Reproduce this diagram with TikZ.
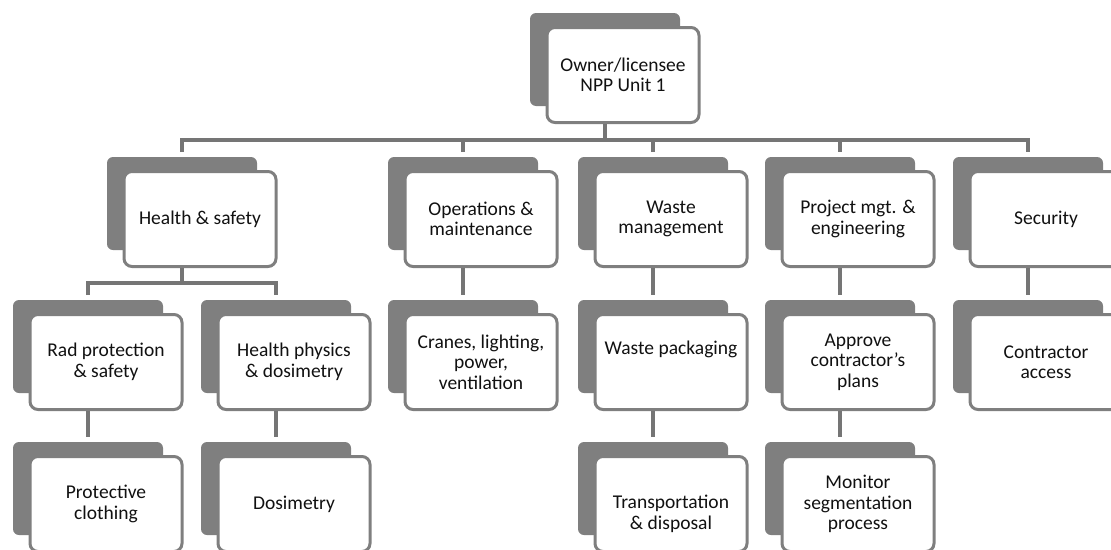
\documentclass[tikz,border=0pt]{standalone}
\usepackage{fontspec}
\setmainfont{Carlito}
\definecolor{boxgray}{HTML}{7F7F7F}
\definecolor{linegray}{HTML}{757575}
\definecolor{inktext}{HTML}{111111}
\tikzset{
  shadowbox/.style={rectangle, rounded corners=6pt, fill=boxgray,
    minimum width=150pt, minimum height=93pt, inner sep=0pt, outer sep=0pt},
  unitbox/.style={rectangle, rounded corners=8pt, draw=boxgray, line width=3pt,
    fill=white, minimum width=152pt, minimum height=95pt, inner sep=0pt},
  unittext/.style={align=center, text=inktext,
    font=\fontsize{19.5}{20.5}\selectfont, inner sep=0pt},
  conn/.style={draw=linegray, line width=3.5pt},
}
% #1 text shift, #2 name, #3 centre x of the back plate, #4 top of the back plate, #5 text
\newcommand\orgbox[5][0pt]{%
  \node[shadowbox] (#2-s) at (#3,#4+46.5) {};
  \node[unitbox] (#2) at (#3+18,#4+62) {};
  \node[unittext,yshift=#1] (#2-t) at (#2.center) {#5};
}
\begin{document}
\begin{tikzpicture}[x=1pt,y=-1pt]
\useasboundingbox (0,0) rectangle (1111,549);
\clip (0,0) rectangle (1111,549);

% top level
\orgbox{own}{605}{13}{Owner/licensee\\NPP Unit 1}
% departments
\orgbox{hs}{182}{157}{Health \& safety}
\orgbox{om}{463}{157}{Operations \&\\maintenance}
\orgbox{wm}{653}{157}{Waste\\management}
\orgbox{pm}{840}{157}{Project mgt. \&\\engineering}
\orgbox{sec}{1028}{157}{Security}
% second level
\orgbox{rp}{88}{300}{Rad protection\\\& safety}
\orgbox{hp}{276}{300}{Health physics\\\& dosimetry}
\orgbox{cr}{463}{300}{Cranes, lighting,\\power,\\ventilation}
\orgbox[13pt]{wpk}{653}{300}{Waste packaging}
\orgbox{acp}{840}{300}{Approve\\contractor’s\\plans}
\orgbox{ca}{1028}{300}{Contractor\\access}
% third level
\orgbox{pc}{88}{442}{Protective\\clothing}
\orgbox{dos}{276}{442}{Dosimetry}
\orgbox[-10pt]{td}{653}{442}{Transportation\\\& disposal}
\orgbox{msp}{840}{442}{Monitor\\segmentation\\process}

% connector rails
\coordinate (busA) at (0,140);
\coordinate (busB) at (0,283);

\draw[conn] (own-s.center |- own.south) -- (own-s.center |- busA);
\draw[conn] ([yshift=5pt]hs-s.north) -- (hs-s.north |- busA)
  -- (sec-s.north |- busA) -- ([yshift=5pt]sec-s.north);
\foreach \n in {om,wm,pm}
  \draw[conn] (\n-s.north |- busA) -- ([yshift=5pt]\n-s.north);

\draw[conn] (hs-s.center |- hs.south) -- (hs-s.center |- busB);
\draw[conn] ([yshift=5pt]rp-s.north) -- (rp-s.north |- busB)
  -- (hp-s.north |- busB) -- ([yshift=5pt]hp-s.north);

\draw[conn] (om-s.center |- om.south) -- ([yshift=5pt]cr-s.north);
\draw[conn] (wm-s.center |- wm.south) -- ([yshift=5pt]wpk-s.north);
\draw[conn] (pm-s.center |- pm.south) -- ([yshift=5pt]acp-s.north);
\draw[conn] (sec-s.center |- sec.south) -- ([yshift=5pt]ca-s.north);
\draw[conn] (rp-s.center |- rp.south) -- ([yshift=5pt]pc-s.north);
\draw[conn] (hp-s.center |- hp.south) -- ([yshift=5pt]dos-s.north);
\draw[conn] (wpk-s.center |- wpk.south) -- ([yshift=5pt]td-s.north);
\draw[conn] (acp-s.center |- acp.south) -- ([yshift=5pt]msp-s.north);
\end{tikzpicture}
\end{document}
